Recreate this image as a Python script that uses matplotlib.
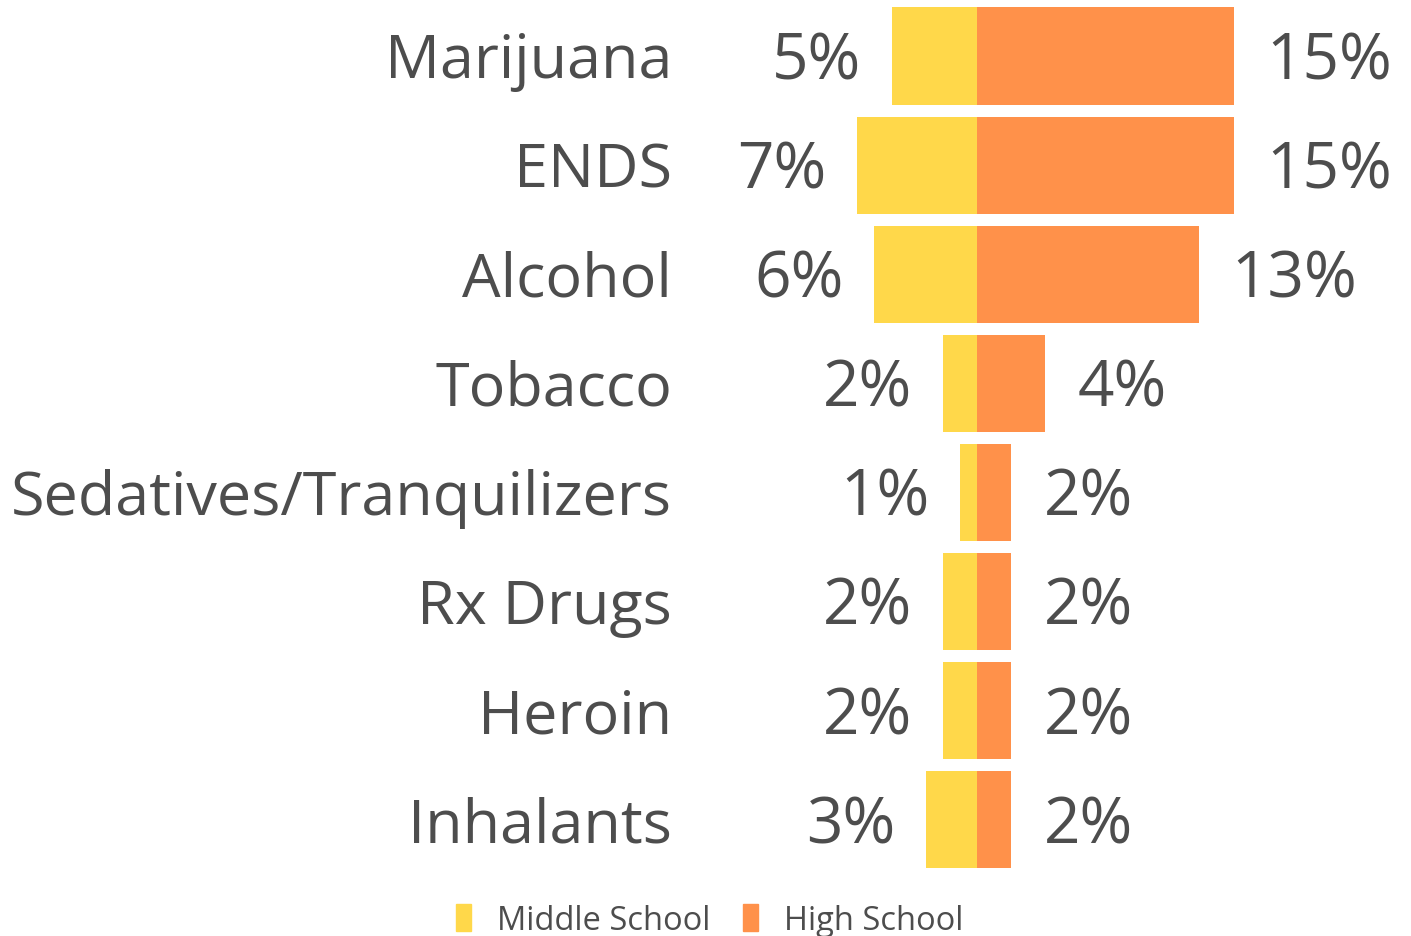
import matplotlib.pyplot as plt
from matplotlib.patches import Patch

plt.rcParams['font.family'] = ['Open Sans', 'DejaVu Sans']

categories = ['Marijuana', 'ENDS', 'Alcohol', 'Tobacco', 'Sedatives/Tranquilizers',
              'Rx Drugs', 'Heroin', 'Inhalants']
middle_school = [5, 7, 6, 2, 1, 2, 2, 3]
high_school = [15, 15, 13, 4, 2, 2, 2, 2]

ms_color = '#FFD84A'
hs_color = '#FF914A'
txt_color = '#4d4d4d'

W, H = 1411, 937
px_per_pct = 17.1
x0 = 977
row0 = 57
row_step = 109.1

fig = plt.figure(figsize=(W / 100, H / 100), dpi=100)
ax = fig.add_axes([0, 0, 1, 1])
ax.set_xlim(-x0 / px_per_pct, (W - x0) / px_per_pct)
ax.set_ylim((H - row0) / row_step, -row0 / row_step)
ax.axis('off')

y = list(range(len(categories)))
ax.barh(y, [-v for v in middle_school], height=0.89, color=ms_color)
ax.barh(y, high_school, height=0.89, color=hs_color)

# text a bit below the bar centre, like the original
dy = 0.05
for i, (cat, ms, hs) in enumerate(zip(categories, middle_school, high_school)):
    ax.text((672 - x0) / px_per_pct, i + dy, cat, ha='right', va='center',
            fontsize=44, color=txt_color)
    ax.text(-ms - 1.8, i + dy, f'{ms}%', ha='right', va='center',
            fontsize=46, color=txt_color)
    ax.text(hs + 1.9, i + dy, f'{hs}%', ha='left', va='center',
            fontsize=46, color=txt_color)

handles = [Patch(color=ms_color, label='Middle School'),
           Patch(color=hs_color, label='High School')]
fig.legend(handles=handles, loc='center', bbox_to_anchor=(0.503, 0.017), ncol=2,
           frameon=False, fontsize=23.5, handlelength=0.45, handleheight=0.9,
           handletextpad=0.8, columnspacing=1.0, labelcolor=txt_color)

fig.savefig('out.png', dpi=100)
